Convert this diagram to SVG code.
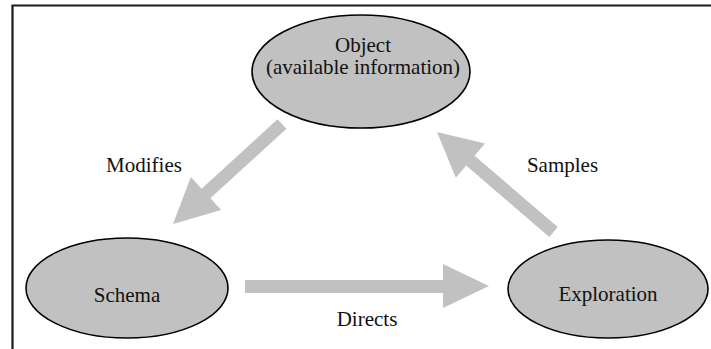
<svg xmlns="http://www.w3.org/2000/svg" width="711" height="349" viewBox="0 0 711 349" font-family="'Liberation Serif', 'Times New Roman', Times, 'DejaVu Serif', serif">
  <style>
    .node ellipse { fill: #c0c1c0; stroke: #000; stroke-width: 1.6; }
    text { font-family: 'Liberation Serif', 'Times New Roman', Times, 'DejaVu Serif', serif; font-size: 21px; fill: #111; text-anchor: middle; }
    .arrow { fill: #c0c1c0; stroke: none; }
    .frame { fill: none; stroke: #1a1a1a; stroke-width: 2.2; }
  </style>

  <rect width="711" height="349" fill="#fff"/>

  <!-- open frame: top and left edges -->
  <path class="frame" d="M12.5 349 V5.5 H711"/>

  <!-- connectors -->
  <g id="connectors">
    <!-- Object -> Schema -->
    <g id="edge-modifies">
      <polygon class="arrow" points="277.6,119.2 286.4,128.8 210.4,198.3 221.2,210.1 173,224 190.8,176.9 201.6,188.7"/>
      <text x="144" y="172">Modifies</text>
    </g>
    <!-- Schema -> Exploration -->
    <g id="edge-directs">
      <polygon class="arrow" points="245,280 443,280 443,264 489,286 443,308 443,293 245,293"/>
      <text x="367" y="326">Directs</text>
    </g>
    <!-- Exploration -> Object -->
    <g id="edge-samples">
      <polygon class="arrow" points="557.7,227.1 474.6,155.7 485,143.5 437,132 455.8,177.7 466.2,165.5 549.3,236.9"/>
      <text x="562.5" y="172">Samples</text>
    </g>
  </g>

  <!-- nodes -->
  <g id="node-object" class="node">
    <ellipse cx="361" cy="71.5" rx="109" ry="56.5"/>
    <text x="363" y="52">Object</text>
    <text x="363" y="74">(available information)</text>
  </g>

  <g id="node-schema" class="node">
    <ellipse cx="127" cy="288" rx="101" ry="50"/>
    <text x="127" y="302">Schema</text>
  </g>

  <g id="node-exploration" class="node">
    <ellipse cx="608" cy="289" rx="100" ry="49"/>
    <text x="608" y="301">Exploration</text>
  </g>
</svg>
